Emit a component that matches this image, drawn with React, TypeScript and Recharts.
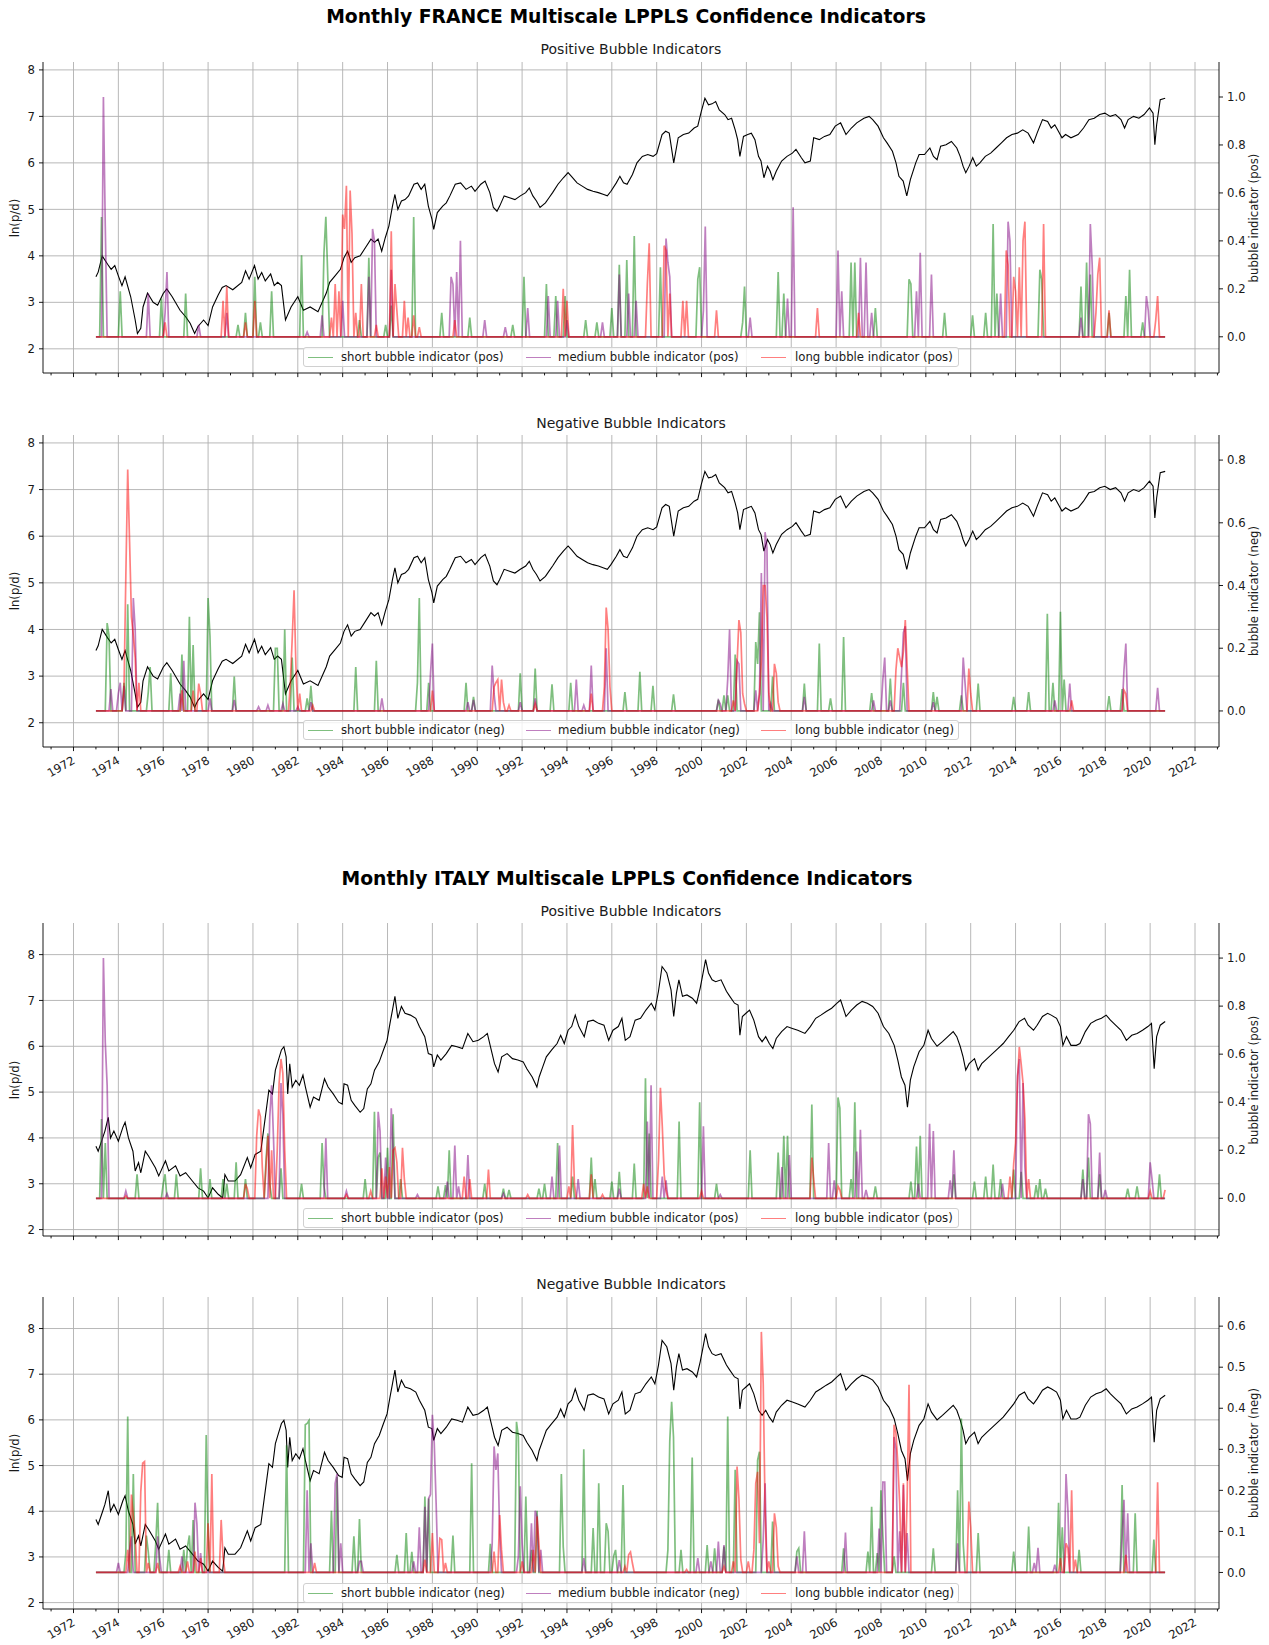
import React from 'react';
import { LineChart, Line, XAxis, YAxis, CartesianGrid } from 'recharts';

// ---------------- axes / ticks ----------------
const X_DOMAIN: [number, number] = [1970.64, 2023.07];
const MAJOR_YEARS = [1972, 1974, 1976, 1978, 1980, 1982, 1984, 1986, 1988, 1990, 1992, 1994, 1996, 1998, 2000, 2002, 2004, 2006, 2008, 2010, 2012, 2014, 2016, 2018, 2020, 2022];
const ALL_YEARS = [1971, 1972, 1973, 1974, 1975, 1976, 1977, 1978, 1979, 1980, 1981, 1982, 1983, 1984, 1985, 1986, 1987, 1988, 1989, 1990, 1991, 1992, 1993, 1994, 1995, 1996, 1997, 1998, 1999, 2000, 2001, 2002, 2003, 2004, 2005, 2006, 2007, 2008, 2009, 2010, 2011, 2012, 2013, 2014, 2015, 2016, 2017, 2018, 2019, 2020, 2021, 2022, 2023];
const LEFT_TICKS = [2, 3, 4, 5, 6, 7, 8];
const RIGHT_TICKS_10 = [0, 0.2, 0.4, 0.6, 0.8, 1.0];
const RIGHT_TICKS_08 = [0, 0.2, 0.4, 0.6, 0.8];
const RIGHT_TICKS_06 = [0, 0.1, 0.2, 0.3, 0.4, 0.5, 0.6];

const MONTH_START = 1973;
const MONTH_COUNT = 573; // Jan 1973 .. Sep 2020

// ---------------- price series ln(p/d) ----------------
const FR_PRICE = [[1973.0,3.55],[1973.1,3.65],[1973.28,4.0],[1973.52,3.82],[1973.68,3.71],[1973.84,3.79],[1974.0,3.57],[1974.16,3.36],[1974.3,3.55],[1974.55,3.12],[1974.75,2.62],[1974.85,2.33],[1975.0,2.44],[1975.1,2.9],[1975.3,3.2],[1975.55,3.0],[1975.75,2.94],[1976.0,3.19],[1976.16,3.29],[1976.4,3.12],[1976.75,2.83],[1977.0,2.69],[1977.2,2.55],[1977.4,2.33],[1977.55,2.48],[1977.8,2.62],[1978.0,2.5],[1978.2,2.9],[1978.45,3.16],[1978.63,3.32],[1978.8,3.36],[1979.1,3.27],[1979.5,3.43],[1979.67,3.68],[1979.83,3.5],[1980.07,3.79],[1980.23,3.5],[1980.39,3.64],[1980.55,3.46],[1980.79,3.61],[1980.95,3.36],[1981.1,3.43],[1981.27,3.36],[1981.45,2.62],[1981.7,2.9],[1982.0,3.12],[1982.25,2.83],[1982.55,2.9],[1982.9,2.8],[1983.27,3.2],[1983.42,3.43],[1983.66,3.57],[1983.9,3.71],[1984.06,3.96],[1984.22,4.1],[1984.38,3.86],[1984.54,3.96],[1984.78,4.0],[1985.02,4.18],[1985.26,4.36],[1985.42,4.29],[1985.58,4.36],[1985.74,4.1],[1985.9,4.39],[1986.06,4.64],[1986.22,5.07],[1986.33,5.32],[1986.46,5.0],[1986.62,5.18],[1986.78,5.21],[1986.94,5.29],[1987.18,5.54],[1987.34,5.57],[1987.5,5.43],[1987.66,5.54],[1987.82,5.07],[1987.98,4.79],[1988.06,4.57],[1988.22,4.93],[1988.46,5.07],[1988.62,5.14],[1988.78,5.29],[1989.02,5.54],[1989.26,5.57],[1989.5,5.43],[1989.74,5.5],[1989.9,5.39],[1990.16,5.54],[1990.35,5.61],[1990.56,5.36],[1990.72,5.04],[1990.88,4.96],[1991.0,5.07],[1991.2,5.29],[1991.44,5.25],[1991.68,5.21],[1991.92,5.29],[1992.16,5.36],[1992.32,5.46],[1992.48,5.29],[1992.64,5.18],[1992.8,5.04],[1993.04,5.14],[1993.2,5.25],[1993.36,5.36],[1993.6,5.54],[1993.84,5.68],[1994.05,5.79],[1994.2,5.71],[1994.45,5.57],[1994.68,5.5],[1994.92,5.43],[1995.16,5.39],[1995.4,5.36],[1995.64,5.32],[1995.8,5.29],[1995.96,5.39],[1996.2,5.57],[1996.36,5.71],[1996.52,5.57],[1996.68,5.54],[1996.92,5.75],[1997.12,6.0],[1997.36,6.14],[1997.6,6.18],[1997.84,6.14],[1998.0,6.2],[1998.24,6.61],[1998.4,6.68],[1998.56,6.64],[1998.76,6.0],[1998.96,6.54],[1999.19,6.61],[1999.43,6.64],[1999.67,6.75],[1999.83,6.79],[1999.99,7.11],[2000.15,7.39],[2000.31,7.25],[2000.47,7.27],[2000.63,7.32],[2000.79,7.14],[2001.03,7.04],[2001.18,6.93],[2001.34,6.96],[2001.5,6.71],[2001.61,6.5],[2001.71,6.14],[2001.87,6.57],[2002.06,6.61],[2002.22,6.64],[2002.38,6.5],[2002.54,6.14],[2002.65,6.04],[2002.78,5.68],[2002.94,5.93],[2003.06,5.82],[2003.18,5.64],[2003.33,5.82],[2003.57,6.04],[2003.81,6.14],[2004.05,6.21],[2004.21,6.29],[2004.45,6.11],[2004.61,6.0],[2004.85,6.04],[2005.0,6.54],[2005.25,6.5],[2005.48,6.57],[2005.72,6.61],[2005.96,6.79],[2006.2,6.86],[2006.44,6.61],[2006.68,6.75],[2006.92,6.86],[2007.24,6.96],[2007.47,7.0],[2007.63,6.93],[2007.87,6.79],[2008.11,6.54],[2008.27,6.43],[2008.51,6.25],[2008.67,6.0],[2008.8,5.71],[2008.99,5.61],[2009.15,5.29],[2009.31,5.64],[2009.55,6.0],[2009.7,6.18],[2009.94,6.18],[2010.18,6.32],[2010.34,6.14],[2010.5,6.07],[2010.66,6.36],[2010.9,6.39],[2011.14,6.46],[2011.38,6.32],[2011.53,6.14],[2011.66,5.93],[2011.78,5.79],[2011.93,5.93],[2012.09,6.11],[2012.25,5.93],[2012.41,6.0],[2012.65,6.14],[2012.89,6.21],[2013.13,6.32],[2013.37,6.43],[2013.6,6.54],[2013.84,6.61],[2014.08,6.64],[2014.32,6.71],[2014.56,6.64],[2014.8,6.43],[2014.96,6.64],[2015.2,6.93],[2015.43,6.89],[2015.59,6.75],[2015.75,6.82],[2015.91,6.68],[2016.07,6.54],[2016.23,6.61],[2016.47,6.54],[2016.79,6.61],[2017.03,6.75],[2017.27,6.93],[2017.51,6.96],[2017.75,7.04],[2017.98,7.07],[2018.22,7.0],[2018.46,7.04],[2018.7,6.93],[2018.86,6.75],[2019.02,6.93],[2019.26,7.0],[2019.5,6.96],[2019.73,7.04],[2019.97,7.18],[2020.13,7.07],[2020.21,6.39],[2020.29,6.82],[2020.45,7.36],[2020.67,7.39]];

const IT_PRICE = [[1973.0,3.82],[1973.1,3.71],[1973.3,4.0],[1973.4,4.15],[1973.55,4.45],[1973.65,4.0],[1973.8,4.15],[1974.0,3.93],[1974.2,4.23],[1974.3,4.34],[1974.45,4.0],[1974.65,3.71],[1974.75,3.28],[1974.9,3.46],[1975.0,3.24],[1975.2,3.71],[1975.35,3.6],[1975.65,3.35],[1975.8,3.17],[1976.1,3.5],[1976.25,3.28],[1976.55,3.39],[1976.75,3.17],[1977.0,3.24],[1977.3,3.06],[1977.55,2.91],[1977.8,2.84],[1978.0,2.69],[1978.2,2.91],[1978.45,2.77],[1978.65,2.69],[1978.75,3.2],[1978.9,3.06],[1979.2,3.06],[1979.45,3.2],[1979.75,3.57],[1979.9,3.35],[1980.1,3.64],[1980.35,3.71],[1980.55,4.45],[1980.71,5.04],[1980.87,4.96],[1981.0,5.48],[1981.11,5.66],[1981.27,5.92],[1981.38,5.99],[1981.48,5.77],[1981.55,4.96],[1981.64,5.62],[1981.75,5.11],[1981.91,5.26],[1982.07,5.15],[1982.23,5.37],[1982.34,5.11],[1982.55,4.67],[1982.7,4.89],[1982.95,4.82],[1983.19,5.29],[1983.35,5.11],[1983.58,4.96],[1983.82,4.78],[1983.98,4.74],[1984.06,5.18],[1984.22,5.15],[1984.38,4.82],[1984.54,4.71],[1984.78,4.56],[1984.94,4.64],[1985.1,5.07],[1985.26,5.18],[1985.42,5.48],[1985.63,5.66],[1985.82,5.92],[1985.98,6.13],[1986.11,6.5],[1986.22,6.79],[1986.33,7.09],[1986.46,6.61],[1986.62,6.87],[1986.78,6.72],[1987.02,6.68],[1987.26,6.61],[1987.42,6.43],[1987.66,6.21],[1987.82,5.84],[1987.98,5.81],[1988.06,5.55],[1988.22,5.81],[1988.38,5.7],[1988.62,5.84],[1988.86,6.02],[1989.1,5.99],[1989.34,5.95],[1989.58,6.28],[1989.81,6.1],[1990.05,6.13],[1990.29,6.21],[1990.45,6.28],[1990.61,5.95],[1990.77,5.62],[1990.93,5.44],[1991.09,5.77],[1991.33,5.84],[1991.57,5.73],[1991.81,5.7],[1992.05,5.66],[1992.21,5.51],[1992.45,5.33],[1992.66,5.11],[1992.76,5.33],[1992.92,5.55],[1993.08,5.77],[1993.32,5.92],[1993.56,6.06],[1993.72,6.24],[1993.88,6.06],[1994.05,6.35],[1994.21,6.43],[1994.37,6.68],[1994.53,6.43],[1994.77,6.21],[1994.93,6.54],[1995.17,6.57],[1995.41,6.5],[1995.65,6.46],[1995.86,6.13],[1996.05,6.35],[1996.29,6.43],[1996.45,6.61],[1996.6,6.13],[1996.81,6.21],[1997.04,6.57],[1997.28,6.61],[1997.52,6.79],[1997.76,6.94],[1997.92,6.79],[1998.08,7.2],[1998.24,7.74],[1998.45,7.6],[1998.64,7.23],[1998.76,6.65],[1998.88,7.16],[1998.99,7.45],[1999.15,7.09],[1999.35,7.12],[1999.59,7.05],[1999.78,6.94],[1999.94,7.27],[2000.07,7.6],[2000.18,7.89],[2000.31,7.6],[2000.47,7.45],[2000.63,7.41],[2000.87,7.45],[2001.11,7.2],[2001.26,7.09],[2001.47,6.94],[2001.63,6.9],[2001.71,6.24],[2001.82,6.65],[2001.98,6.72],[2002.14,6.79],[2002.33,6.57],[2002.54,6.21],[2002.7,6.1],[2002.86,6.21],[2003.02,6.06],[2003.18,5.95],[2003.33,6.17],[2003.57,6.32],[2003.81,6.43],[2004.05,6.39],[2004.29,6.35],[2004.61,6.28],[2004.85,6.43],[2005.09,6.61],[2005.32,6.68],[2005.56,6.76],[2005.8,6.83],[2006.04,6.94],[2006.2,7.01],[2006.44,6.65],[2006.68,6.79],[2006.92,6.9],[2007.16,6.98],[2007.39,6.94],[2007.63,6.87],[2007.87,6.72],[2008.11,6.43],[2008.35,6.28],[2008.59,6.02],[2008.75,5.7],[2008.91,5.33],[2009.07,5.15],[2009.18,4.67],[2009.31,5.26],[2009.46,5.55],[2009.7,5.88],[2009.91,6.02],[2010.1,6.35],[2010.25,6.17],[2010.5,6.0],[2010.74,6.1],[2010.98,6.21],[2011.22,6.32],[2011.38,6.21],[2011.53,6.0],[2011.66,5.77],[2011.78,5.48],[2011.93,5.62],[2012.17,5.73],[2012.33,5.48],[2012.49,5.62],[2012.73,5.73],[2012.97,5.84],[2013.21,5.95],[2013.45,6.06],[2013.69,6.21],[2013.92,6.35],[2014.16,6.54],[2014.4,6.61],[2014.56,6.46],[2014.8,6.35],[2014.96,6.46],[2015.2,6.65],[2015.43,6.72],[2015.59,6.68],[2015.83,6.61],[2016.0,6.43],[2016.11,6.02],[2016.27,6.21],[2016.47,6.02],[2016.71,6.02],[2016.87,6.06],[2017.11,6.32],[2017.35,6.5],[2017.59,6.57],[2017.83,6.61],[2018.04,6.68],[2018.23,6.57],[2018.46,6.46],[2018.7,6.35],[2018.94,6.13],[2019.18,6.24],[2019.42,6.28],[2019.66,6.35],[2019.9,6.43],[2020.06,6.5],[2020.18,5.51],[2020.29,6.21],[2020.45,6.46],[2020.67,6.54]];

// ---------------- bubble indicators: [year, value] of non-zero months ----------------
const FR_POS_SHORT = [[1973.27,0.5],[1974.05,0.19],[1975.95,0.16],[1977.0,0.18],[1979.33,0.05],[1979.7,0.1],[1980.1,0.25],[1980.35,0.06],[1980.8,0.19],[1982.15,0.34],[1983.15,0.35],[1983.25,0.5],[1983.35,0.26],[1984.75,0.07],[1985.2,0.33],[1985.9,0.05],[1986.2,0.13],[1987.2,0.5],[1988.45,0.1],[1989.7,0.08],[1991.6,0.05],[1992.1,0.25],[1993.1,0.22],[1993.5,0.17],[1993.9,0.17],[1994.85,0.07],[1995.3,0.06],[1996.0,0.12],[1996.3,0.3],[1996.65,0.32],[1997.0,0.42],[1998.2,0.29],[1999.8,0.24],[1999.9,0.29],[2001.8,0.06],[2001.95,0.21],[2003.4,0.27],[2003.65,0.18],[2006.7,0.31],[2006.8,0.31],[2007.75,0.12],[2009.25,0.24],[2009.35,0.22],[2010.8,0.1],[2012.1,0.09],[2012.65,0.1],[2013.0,0.47],[2013.2,0.18],[2015.1,0.28],[2015.2,0.24],[2016.95,0.21],[2017.2,0.31],[2017.3,0.26],[2018.2,0.1],[2018.9,0.17],[2019.05,0.28],[2019.7,0.06]];
const FR_POS_MEDIUM = [[1973.33,1.0],[1973.4,0.46],[1975.3,0.18],[1976.1,0.1],[1976.2,0.27],[1977.55,0.05],[1978.8,0.1],[1982.4,0.02],[1983.1,0.09],[1984.0,0.15],[1985.2,0.25],[1985.3,0.45],[1985.4,0.4],[1986.2,0.28],[1988.8,0.25],[1988.9,0.22],[1989.05,0.27],[1989.25,0.4],[1990.35,0.07],[1991.25,0.04],[1992.25,0.12],[1993.2,0.17],[1993.6,0.15],[1994.0,0.07],[1995.55,0.06],[1996.3,0.26],[1996.75,0.18],[1997.05,0.15],[1998.4,0.41],[1998.5,0.31],[1998.6,0.25],[2000.1,0.11],[2000.2,0.46],[2002.2,0.08],[2003.8,0.16],[2004.1,0.54],[2006.1,0.36],[2006.25,0.19],[2007.1,0.33],[2007.35,0.31],[2007.55,0.1],[2009.55,0.19],[2009.75,0.35],[2010.25,0.26],[2013.3,0.18],[2013.65,0.48],[2013.75,0.4],[2016.9,0.08],[2017.3,0.47],[2017.4,0.3],[2019.8,0.17],[2019.9,0.11]];
const FR_POS_LONG = [[1976.1,0.06],[1978.7,0.15],[1978.8,0.21],[1979.65,0.06],[1980.1,0.15],[1983.5,0.08],[1983.65,0.22],[1983.8,0.19],[1984.0,0.51],[1984.1,0.45],[1984.2,0.63],[1984.3,0.61],[1984.4,0.43],[1984.55,0.1],[1984.8,0.22],[1985.5,0.05],[1986.2,0.44],[1986.3,0.22],[1986.45,0.11],[1986.75,0.15],[1986.9,0.08],[1987.2,0.09],[1987.4,0.04],[1989.0,0.07],[1993.85,0.2],[1994.0,0.15],[1997.6,0.22],[1997.7,0.39],[1998.35,0.38],[1998.45,0.36],[1998.55,0.18],[1999.2,0.15],[1999.3,0.15],[2000.65,0.11],[2005.2,0.12],[2007.0,0.1],[2013.6,0.36],[2013.7,0.3],[2013.9,0.25],[2014.0,0.19],[2014.2,0.29],[2014.3,0.4],[2014.4,0.48],[2015.25,0.47],[2017.55,0.1],[2017.65,0.26],[2017.75,0.33],[2018.2,0.11],[2020.27,0.07],[2020.35,0.17]];

const FR_NEG_SHORT = [[1973.5,0.28],[1973.6,0.24],[1974.27,0.09],[1974.45,0.34],[1975.35,0.06],[1975.45,0.14],[1976.33,0.12],[1976.8,0.18],[1977.2,0.3],[1977.33,0.21],[1978.0,0.36],[1978.1,0.24],[1979.13,0.11],[1981.0,0.2],[1981.1,0.2],[1981.42,0.26],[1981.73,0.17],[1982.45,0.04],[1982.55,0.08],[1984.55,0.14],[1985.53,0.16],[1987.36,0.09],[1987.45,0.36],[1987.8,0.09],[1989.5,0.09],[1989.8,0.045],[1991.9,0.12],[1992.6,0.135],[1993.36,0.085],[1994.2,0.09],[1996.6,0.06],[1997.25,0.125],[1997.85,0.08],[1998.76,0.053],[2000.73,0.036],[2001.0,0.05],[2001.2,0.05],[2001.5,0.18],[2002.4,0.22],[2002.5,0.15],[2002.58,0.315],[2003.13,0.11],[2004.55,0.087],[2005.27,0.215],[2005.78,0.04],[2006.36,0.236],[2007.6,0.057],[2008.45,0.103],[2009.0,0.09],[2010.36,0.06],[2010.5,0.045],[2011.55,0.05],[2012.36,0.087],[2013.9,0.045],[2014.56,0.06],[2015.45,0.31],[2015.64,0.09],[2016.04,0.316],[2016.13,0.1],[2018.13,0.047],[2018.73,0.07]];
const FR_NEG_MEDIUM = [[1973.67,0.07],[1974.0,0.055],[1974.1,0.09],[1974.27,0.08],[1974.7,0.36],[1974.76,0.26],[1976.75,0.055],[1976.9,0.16],[1978.05,0.04],[1979.2,0.035],[1980.27,0.013],[1980.65,0.018],[1981.37,0.023],[1982.0,0.013],[1982.55,0.028],[1985.73,0.04],[1987.9,0.12],[1988.04,0.215],[1989.55,0.028],[1989.8,0.035],[1990.67,0.145],[1990.78,0.055],[1991.9,0.028],[1992.6,0.04],[1994.4,0.1],[1994.73,0.018],[1995.1,0.145],[1995.73,0.2],[2000.73,0.034],[2000.85,0.023],[2001.2,0.1],[2001.27,0.26],[2001.58,0.16],[2001.7,0.15],[2002.45,0.066],[2002.6,0.055],[2002.7,0.44],[2002.8,0.57],[2002.9,0.52],[2003.1,0.023],[2004.55,0.045],[2007.7,0.034],[2008.1,0.1],[2008.2,0.17],[2008.45,0.034],[2008.9,0.12],[2009.0,0.25],[2009.08,0.27],[2010.36,0.028],[2011.64,0.17],[2011.72,0.087],[2015.73,0.034],[2016.45,0.087],[2018.8,0.13],[2018.9,0.215],[2020.3,0.074]];
const FR_NEG_LONG = [[1974.27,0.065],[1974.36,0.43],[1974.45,0.77],[1974.5,0.54],[1974.58,0.3],[1974.7,0.24],[1974.78,0.17],[1974.9,0.09],[1976.82,0.066],[1977.36,0.065],[1977.55,0.087],[1977.64,0.055],[1981.64,0.087],[1981.78,0.23],[1981.87,0.385],[1981.95,0.14],[1982.1,0.055],[1982.64,0.018],[1988.04,0.065],[1990.73,0.077],[1990.87,0.09],[1990.95,0.1],[1991.05,0.1],[1991.2,0.028],[1991.45,0.018],[1992.55,0.023],[1995.1,0.055],[1995.65,0.077],[1995.76,0.33],[1995.87,0.26],[1995.95,0.077],[2001.45,0.034],[2001.58,0.15],[2001.65,0.29],[2001.73,0.25],[2001.8,0.055],[2001.9,0.023],[2002.55,0.055],[2002.65,0.16],[2002.73,0.4],[2002.81,0.4],[2002.88,0.3],[2002.96,0.055],[2003.27,0.15],[2003.36,0.12],[2003.45,0.028],[2008.64,0.13],[2008.73,0.2],[2008.82,0.17],[2008.9,0.14],[2009.03,0.19],[2009.12,0.29],[2009.2,0.14],[2011.9,0.135],[2012.0,0.055],[2016.5,0.034],[2018.85,0.066],[2018.93,0.055]];

const IT_POS_SHORT = [[1973.24,0.33],[1973.42,0.23],[1974.87,0.1],[1975.96,0.06],[1976.05,0.1],[1976.55,0.1],[1977.7,0.125],[1978.1,0.08],[1978.65,0.08],[1978.8,0.06],[1979.24,0.15],[1979.64,0.08],[1980.55,0.16],[1980.64,0.27],[1980.73,0.06],[1981.27,0.125],[1982.18,0.06],[1983.1,0.23],[1983.2,0.05],[1984.96,0.08],[1985.45,0.36],[1985.55,0.17],[1985.7,0.19],[1985.96,0.21],[1986.24,0.35],[1986.6,0.08],[1988.27,0.05],[1988.55,0.055],[1988.73,0.2],[1990.36,0.06],[1991.18,0.04],[1991.42,0.035],[1992.75,0.04],[1993.0,0.06],[1993.55,0.23],[1994.27,0.09],[1995.1,0.17],[1995.27,0.08],[1996.0,0.07],[1996.36,0.11],[1997.0,0.145],[1997.5,0.5],[1997.64,0.27],[1999.0,0.32],[1999.95,0.4],[2000.64,0.06],[2002.18,0.2],[2003.4,0.19],[2003.7,0.26],[2003.87,0.26],[2004.95,0.39],[2006.1,0.42],[2006.2,0.375],[2006.64,0.08],[2006.82,0.4],[2007.73,0.05],[2009.33,0.07],[2009.55,0.215],[2009.76,0.26],[2011.27,0.1],[2012.18,0.07],[2012.67,0.09],[2013.0,0.14],[2013.36,0.08],[2013.91,0.12],[2014.27,0.11],[2014.9,0.055],[2015.1,0.08],[2015.36,0.04],[2017.0,0.12],[2017.27,0.17],[2017.73,0.1],[2019.0,0.04],[2019.45,0.05],[2020.4,0.1]];
const IT_POS_MEDIUM = [[1973.36,1.0],[1973.45,0.65],[1973.53,0.47],[1974.33,0.03],[1976.15,0.02],[1980.73,0.34],[1980.82,0.47],[1980.95,0.25],[1981.27,0.48],[1981.36,0.35],[1983.22,0.25],[1984.15,0.03],[1985.55,0.36],[1985.64,0.28],[1985.91,0.17],[1986.15,0.375],[1986.27,0.2],[1987.3,0.015],[1988.69,0.07],[1989.0,0.22],[1989.14,0.05],[1989.55,0.18],[1991.2,0.02],[1993.36,0.09],[1993.64,0.22],[1994.5,0.08],[1996.36,0.04],[1997.55,0.32],[1997.76,0.47],[1998.24,0.09],[1998.45,0.075],[2000.1,0.3],[2000.82,0.015],[2003.55,0.13],[2003.91,0.18],[2005.7,0.23],[2005.9,0.075],[2006.9,0.195],[2007.1,0.285],[2007.36,0.035],[2009.64,0.06],[2010.2,0.31],[2010.3,0.28],[2011.1,0.075],[2011.27,0.2],[2013.45,0.06],[2014.1,0.51],[2014.2,0.58],[2014.31,0.48],[2014.45,0.13],[2017.0,0.08],[2017.27,0.35],[2017.36,0.31],[2017.73,0.19],[2018.0,0.035],[2019.96,0.15],[2020.05,0.08]];
const IT_POS_LONG = [[1974.36,0.01],[1979.64,0.06],[1979.73,0.04],[1980.18,0.26],[1980.27,0.37],[1980.36,0.34],[1980.45,0.13],[1980.55,0.13],[1980.7,0.26],[1980.82,0.2],[1981.1,0.2],[1981.18,0.48],[1981.27,0.58],[1981.36,0.52],[1981.45,0.2],[1984.18,0.015],[1985.27,0.03],[1985.73,0.125],[1985.91,0.09],[1986.09,0.13],[1986.24,0.2],[1986.33,0.21],[1986.45,0.15],[1986.69,0.21],[1986.78,0.08],[1989.45,0.09],[1989.64,0.08],[1990.5,0.12],[1992.24,0.015],[1994.1,0.05],[1994.24,0.305],[1994.36,0.06],[1995.1,0.1],[1995.6,0.015],[1997.45,0.06],[1997.55,0.05],[1998.1,0.16],[1998.18,0.46],[1998.26,0.3],[1998.36,0.1],[1998.45,0.035],[2000.0,0.03],[2004.9,0.17],[2005.0,0.08],[2006.1,0.05],[2006.18,0.035],[2013.73,0.09],[2013.9,0.145],[2014.0,0.23],[2014.09,0.48],[2014.18,0.63],[2014.27,0.56],[2014.36,0.48],[2014.45,0.33],[2014.55,0.08],[2020.0,0.03],[2020.64,0.035]];

const IT_NEG_SHORT = [[1974.33,0.047],[1974.45,0.38],[1974.65,0.24],[1975.24,0.09],[1975.3,0.05],[1975.64,0.07],[1975.78,0.17],[1976.27,0.055],[1976.95,0.055],[1977.1,0.063],[1977.18,0.09],[1977.36,0.128],[1977.88,0.15],[1977.95,0.335],[1978.04,0.09],[1981.5,0.31],[1982.33,0.36],[1982.42,0.363],[1982.5,0.37],[1983.5,0.15],[1983.73,0.233],[1984.5,0.088],[1984.76,0.13],[1986.4,0.043],[1986.87,0.096],[1987.1,0.05],[1987.64,0.185],[1987.82,0.18],[1988.9,0.09],[1989.76,0.266],[1990.55,0.07],[1991.78,0.367],[1991.86,0.33],[1992.18,0.185],[1992.42,0.055],[1992.7,0.15],[1993.78,0.24],[1993.86,0.063],[1994.73,0.3],[1995.2,0.108],[1995.45,0.217],[1995.73,0.12],[1995.82,0.1],[1996.1,0.04],[1996.18,0.055],[1996.5,0.213],[1998.49,0.055],[1998.58,0.32],[1998.67,0.416],[1998.75,0.33],[1999.09,0.055],[1999.58,0.28],[2000.24,0.067],[2000.55,0.059],[2001.04,0.063],[2001.18,0.38],[2001.5,0.25],[2002.49,0.274],[2002.6,0.294],[2003.18,0.124],[2004.27,0.051],[2004.36,0.059],[2006.31,0.059],[2007.4,0.051],[2007.58,0.16],[2007.87,0.047],[2008.0,0.2],[2008.1,0.09],[2008.6,0.039],[2010.36,0.059],[2011.45,0.2],[2011.55,0.375],[2011.64,0.07],[2012.36,0.096],[2013.9,0.051],[2014.6,0.112],[2015.95,0.17],[2016.09,0.11],[2016.82,0.055],[2018.78,0.213],[2019.36,0.144],[2020.13,0.08]];
const IT_NEG_MEDIUM = [[1973.96,0.023],[1974.5,0.055],[1974.58,0.088],[1975.78,0.088],[1975.86,0.039],[1976.82,0.039],[1977.42,0.17],[1977.5,0.12],[1977.64,0.047],[1982.45,0.2],[1982.55,0.071],[1983.67,0.217],[1983.75,0.24],[1983.9,0.071],[1984.78,0.027],[1984.87,0.027],[1987.18,0.027],[1987.45,0.11],[1987.64,0.16],[1987.8,0.18],[1987.9,0.19],[1988.04,0.384],[1988.12,0.315],[1988.2,0.17],[1990.64,0.07],[1990.73,0.307],[1990.82,0.25],[1990.9,0.29],[1991.0,0.095],[1991.82,0.039],[1991.9,0.21],[1992.0,0.071],[1992.45,0.12],[1992.6,0.15],[1992.7,0.136],[1992.82,0.055],[1994.73,0.035],[1996.36,0.03],[1999.82,0.035],[2000.45,0.027],[2000.73,0.075],[2001.0,0.067],[2002.73,0.08],[2002.82,0.217],[2004.27,0.039],[2004.6,0.1],[2006.42,0.097],[2007.9,0.107],[2008.05,0.22],[2008.18,0.22],[2008.58,0.33],[2008.67,0.3],[2008.82,0.1],[2008.96,0.205],[2009.04,0.213],[2009.13,0.096],[2011.45,0.071],[2014.82,0.023],[2015.0,0.06],[2015.73,0.019],[2016.24,0.24],[2016.31,0.152],[2018.72,0.088],[2018.82,0.177],[2018.96,0.144]];
const IT_NEG_LONG = [[1974.45,0.055],[1974.55,0.19],[1974.64,0.136],[1974.73,0.088],[1975.0,0.197],[1975.05,0.266],[1975.13,0.27],[1975.2,0.136],[1975.3,0.023],[1975.73,0.023],[1976.73,0.015],[1977.1,0.027],[1977.45,0.051],[1977.64,0.035],[1978.0,0.12],[1978.13,0.24],[1978.2,0.055],[1978.55,0.128],[1978.63,0.039],[1982.73,0.023],[1987.64,0.031],[1987.96,0.096],[1988.04,0.051],[1988.36,0.083],[1988.45,0.08],[1988.55,0.023],[1990.73,0.051],[1991.0,0.14],[1991.09,0.055],[1992.0,0.027],[1992.5,0.055],[1992.7,0.136],[1992.78,0.071],[1996.55,0.015],[1996.73,0.043],[1996.82,0.05],[1996.91,0.023],[1999.36,0.007],[2001.04,0.015],[2001.45,0.027],[2001.58,0.258],[2001.66,0.18],[2001.75,0.031],[2002.09,0.027],[2002.36,0.055],[2002.45,0.217],[2002.53,0.245],[2002.62,0.071],[2002.7,0.586],[2002.78,0.46],[2002.87,0.152],[2003.0,0.027],[2003.27,0.144],[2003.35,0.11],[2003.43,0.015],[2008.6,0.36],[2008.7,0.34],[2008.78,0.266],[2008.87,0.17],[2009.04,0.217],[2009.13,0.18],[2009.24,0.457],[2011.91,0.173],[2012.0,0.11],[2016.0,0.035],[2016.27,0.071],[2016.36,0.06],[2016.51,0.2],[2016.64,0.031],[2018.91,0.043],[2020.3,0.22]];

// ---------------- helpers ----------------
const toPoints = (rows: number[][]) => rows.map(([x, y]) => ({ x, y }));
const monthly = (spikes: number[][]) => {
  const arr = new Array(MONTH_COUNT).fill(0);
  spikes.forEach(([yr, v]) => {
    const i = Math.round((yr - MONTH_START) * 12);
    if (i >= 0 && i < MONTH_COUNT) arr[i] = Math.max(arr[i], v);
  });
  return arr.map((v, i) => ({ x: MONTH_START + i / 12, y: v }));
};

const FONT = '"DejaVu Sans", Verdana, sans-serif';
const TXT = '#1a1a1a';
const GREEN = '#008000';
const PURPLE = '#800080';
const RED = '#ff0000';

const XTick = (props: any) => {
  const { x, y, payload, showLabel } = props;
  const yr = payload.value;
  const major = yr % 2 === 0;
  const len = major ? 4.1 : 2.4;
  const ax = x - 2;
  const ay = y + len + 4;
  return (
    <g>
      <line x1={x} x2={x} y1={y} y2={y + len} stroke="#000" strokeWidth={0.9} />
      {major && showLabel ? (
        <text x={ax} y={ay} transform={`rotate(-30 ${ax} ${ay})`} textAnchor="end" dominantBaseline="hanging" fontSize={11.7} fill={TXT} fontFamily={FONT}>
          {yr}
        </text>
      ) : null}
    </g>
  );
};

type PanelProps = {
  frameTop: number;
  plotH: number;
  xAxisH: number;
  showXLabels: boolean;
  leftDomain: [number, number];
  rightDomain: [number, number];
  rightTicks: number[];
  price: number[][];
  shortS: number[][];
  mediumS: number[][];
  longS: number[][];
};

const Panel = (p: PanelProps) => {
  const height = 6 + p.plotH + p.xAxisH;
  return (
    <div style={{ position: 'absolute', left: 0, top: p.frameTop - 6 }}>
      <LineChart width={1269} height={height} margin={{ top: 6, right: 0, bottom: 0, left: 0 }}>
        <CartesianGrid yAxisId="L" verticalValues={MAJOR_YEARS} horizontalValues={LEFT_TICKS} stroke="#b0b0b0" strokeWidth={0.9} />
        <XAxis
          type="number"
          dataKey="x"
          domain={X_DOMAIN}
          allowDataOverflow
          ticks={ALL_YEARS}
          interval={0}
          height={p.xAxisH}
          tickLine={false}
          tickSize={0}
          tickMargin={0}
          axisLine={{ stroke: '#000', strokeWidth: 0.9 }}
          tick={(tp: any) => <XTick {...tp} showLabel={p.showXLabels} />}
        />
        <XAxis xAxisId="top" orientation="top" type="number" domain={X_DOMAIN} allowDataOverflow height={0} tick={false} tickLine={false} axisLine={{ stroke: '#000', strokeWidth: 0.9 }} />
        <YAxis
          yAxisId="L"
          type="number"
          domain={p.leftDomain}
          allowDataOverflow
          ticks={LEFT_TICKS}
          interval={0}
          width={43}
          tickSize={4}
          tickMargin={4}
          axisLine={{ stroke: '#000', strokeWidth: 0.9 }}
          tickLine={{ stroke: '#000', strokeWidth: 0.9 }}
          tick={{ fontSize: 11.7, fill: TXT, fontFamily: FONT }}
        />
        <YAxis
          yAxisId="R"
          orientation="right"
          type="number"
          domain={p.rightDomain}
          allowDataOverflow
          ticks={p.rightTicks}
          interval={0}
          width={50}
          tickSize={4}
          tickMargin={4}
          tickFormatter={(v: number) => v.toFixed(1)}
          axisLine={{ stroke: '#000', strokeWidth: 0.9 }}
          tickLine={{ stroke: '#000', strokeWidth: 0.9 }}
          tick={{ fontSize: 11.7, fill: TXT, fontFamily: FONT, textAnchor: 'start' }}
        />
        <Line yAxisId="L" data={toPoints(p.price)} dataKey="y" type="linear" stroke="#000" strokeWidth={1.1} dot={false} activeDot={false} isAnimationActive={false} />
        <Line yAxisId="R" data={monthly(p.shortS)} dataKey="y" type="linear" stroke={GREEN} strokeOpacity={0.5} strokeWidth={1.7} dot={false} activeDot={false} isAnimationActive={false} />
        <Line yAxisId="R" data={monthly(p.mediumS)} dataKey="y" type="linear" stroke={PURPLE} strokeOpacity={0.5} strokeWidth={1.7} dot={false} activeDot={false} isAnimationActive={false} />
        <Line yAxisId="R" data={monthly(p.longS)} dataKey="y" type="linear" stroke={RED} strokeOpacity={0.5} strokeWidth={1.7} dot={false} activeDot={false} isAnimationActive={false} />
      </LineChart>
    </div>
  );
};

const Legend = ({ top, suffix }: { top: number; suffix: string }) => {
  const items = [
    { color: GREEN, label: `short bubble indicator (${suffix})`, h: 4, t: 37 },
    { color: PURPLE, label: `medium bubble indicator (${suffix})`, h: 222, t: 254 },
    { color: RED, label: `long bubble indicator (${suffix})`, h: 457, t: 491 },
  ];
  return (
    <div style={{ position: 'absolute', left: 303, top, width: 656, height: 20, border: '1px solid #d0d0d0', borderRadius: 3, background: 'rgba(255,255,255,0.8)', boxSizing: 'border-box' }}>
      {items.map((it) => (
        <React.Fragment key={it.label}>
          <div style={{ position: 'absolute', left: it.h, top: 9, width: 25, height: 0, borderTop: `1.7px solid ${it.color}`, opacity: 0.5 }} />
          <div style={{ position: 'absolute', left: it.t, top: 1, lineHeight: '16px', fontSize: 11.7, color: TXT, fontFamily: FONT, whiteSpace: 'nowrap' }}>{it.label}</div>
        </React.Fragment>
      ))}
    </div>
  );
};

const TextAt = ({ cx, cy, text, size, bold, rotate }: { cx: number; cy: number; text: string; size: number; bold?: boolean; rotate?: boolean }) => (
  <div
    style={{
      position: 'absolute',
      left: cx,
      top: cy,
      transform: `translate(-50%, -50%)${rotate ? ' rotate(-90deg)' : ''}`,
      fontSize: size,
      fontWeight: bold ? 'bold' : 'normal',
      fontFamily: FONT,
      color: bold ? '#000' : TXT,
      whiteSpace: 'nowrap',
      lineHeight: 1,
    }}
  >
    {text}
  </div>
);

const PANELS = [
  { frameTop: 62, plotH: 311, xAxisH: 12, showXLabels: false, leftDomain: [1.48, 8.17] as [number, number], rightDomain: [-0.151, 1.146] as [number, number], rightTicks: RIGHT_TICKS_10, price: FR_PRICE, shortS: FR_POS_SHORT, mediumS: FR_POS_MEDIUM, longS: FR_POS_LONG, sub: 'Positive Bubble Indicators', subY: 49, suffix: 'pos', legendTop: 347 },
  { frameTop: 435, plotH: 312, xAxisH: 40, showXLabels: true, leftDomain: [1.48, 8.17] as [number, number], rightDomain: [-0.115, 0.88] as [number, number], rightTicks: RIGHT_TICKS_08, price: FR_PRICE, shortS: FR_NEG_SHORT, mediumS: FR_NEG_MEDIUM, longS: FR_NEG_LONG, sub: 'Negative Bubble Indicators', subY: 423, suffix: 'neg', legendTop: 720 },
  { frameTop: 923, plotH: 313, xAxisH: 12, showXLabels: false, leftDomain: [1.86, 8.69] as [number, number], rightDomain: [-0.157, 1.146] as [number, number], rightTicks: RIGHT_TICKS_10, price: IT_PRICE, shortS: IT_POS_SHORT, mediumS: IT_POS_MEDIUM, longS: IT_POS_LONG, sub: 'Positive Bubble Indicators', subY: 911, suffix: 'pos', legendTop: 1208 },
  { frameTop: 1297, plotH: 312, xAxisH: 36, showXLabels: true, leftDomain: [1.86, 8.69] as [number, number], rightDomain: [-0.089, 0.671] as [number, number], rightTicks: RIGHT_TICKS_06, price: IT_PRICE, shortS: IT_NEG_SHORT, mediumS: IT_NEG_MEDIUM, longS: IT_NEG_LONG, sub: 'Negative Bubble Indicators', subY: 1284, suffix: 'neg', legendTop: 1583 },
];

export default function App() {
  return (
    <div style={{ position: 'absolute', left: 0, top: 0, width: 1269, height: 1645, background: '#fff', overflow: 'hidden' }}>
      <TextAt cx={626} cy={17} text="Monthly FRANCE Multiscale LPPLS Confidence Indicators" size={18.8} bold />
      <TextAt cx={627} cy={879} text="Monthly ITALY Multiscale LPPLS Confidence Indicators" size={18.8} bold />
      {PANELS.map((p, i) => (
        <React.Fragment key={i}>
          <Panel {...p} />
          <TextAt cx={631} cy={p.subY} text={p.sub} size={14} />
          <TextAt cx={16} cy={p.frameTop + p.plotH / 2} text="ln(p/d)" size={11.7} rotate />
          <TextAt cx={1254.5} cy={p.frameTop + p.plotH / 2} text={`bubble indicator (${p.suffix})`} size={11.7} rotate />
          <Legend top={p.legendTop} suffix={p.suffix} />
        </React.Fragment>
      ))}
    </div>
  );
}
